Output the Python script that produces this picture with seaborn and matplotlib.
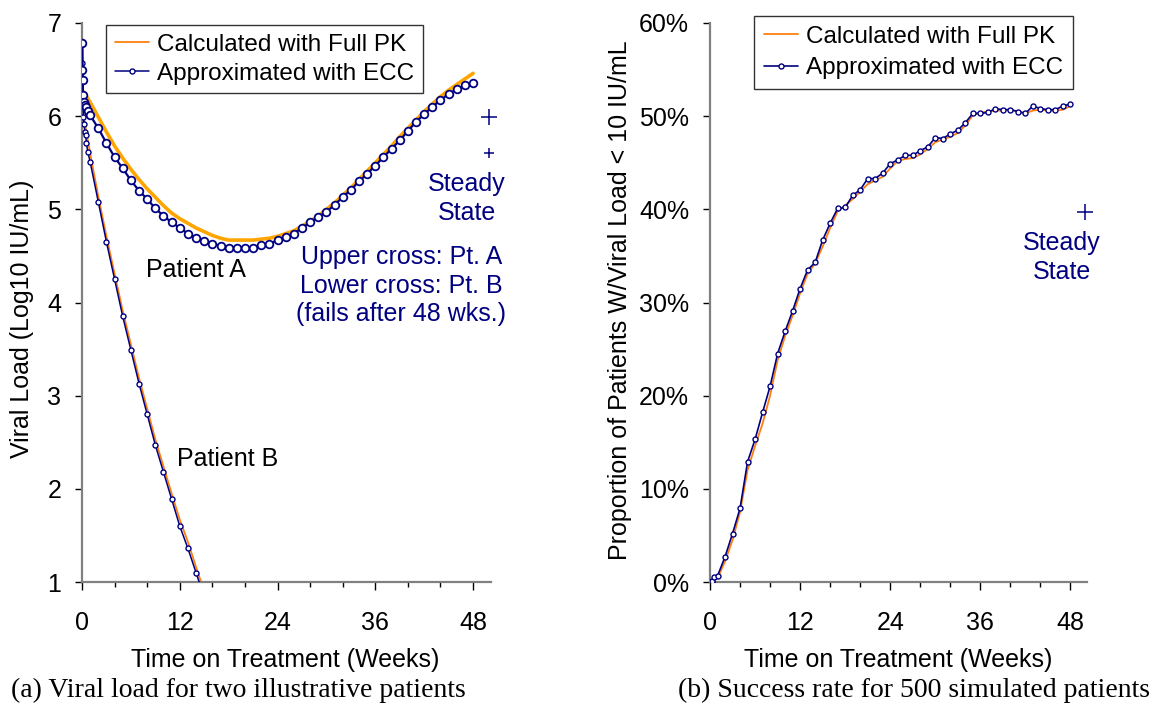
import numpy as np
import pandas as pd
import matplotlib
matplotlib.use("Agg")
import matplotlib.pyplot as plt
import seaborn as sns
from matplotlib.ticker import MultipleLocator, PercentFormatter

# ---------------- data ----------------
weeks_2_48 = list(range(2, 49))

# Patient A, approximated with ECC
a_ecc_t = [0, 0.02, 0.05, 0.08, 0.12, 0.2, 0.35, 0.5, 0.7, 1.0] + weeks_2_48
a_ecc_v = [6.22, 6.78, 6.50, 6.39, 6.23, 6.15, 6.12, 6.10, 6.06, 6.01,
           5.87, 5.71, 5.56, 5.44, 5.31, 5.20, 5.11, 5.01, 4.93, 4.86,
           4.80, 4.74, 4.69, 4.66, 4.63, 4.61, 4.59, 4.59, 4.59, 4.59,
           4.62, 4.63, 4.67, 4.70, 4.74, 4.80, 4.86, 4.92, 4.97, 5.05,
           5.13, 5.21, 5.30, 5.38, 5.47, 5.56, 5.65, 5.74, 5.84, 5.94,
           6.02, 6.10, 6.17, 6.24, 6.29, 6.33, 6.36]

# Patient A, calculated with full PK
a_pk_t = [0, 0.5, 1.0] + weeks_2_48
a_pk_v = [6.28, 6.22, 6.15,
          5.99, 5.83, 5.68, 5.55, 5.43, 5.32, 5.22, 5.13, 5.04, 4.96,
          4.90, 4.85, 4.80, 4.76, 4.72, 4.69, 4.67, 4.67, 4.67, 4.67,
          4.68, 4.69, 4.71, 4.74, 4.77, 4.82, 4.87, 4.93, 5.00, 5.07,
          5.15, 5.23, 5.32, 5.41, 5.50, 5.59, 5.68, 5.78, 5.87, 5.96,
          6.05, 6.13, 6.21, 6.28, 6.34, 6.40, 6.46]

# Patient B, approximated with ECC
b_ecc_t = [0, 0.02, 0.05, 0.08, 0.12, 0.17, 0.25, 0.35, 0.45, 0.55, 0.7, 1.0,
           2, 3, 4, 5, 6, 7, 8, 9, 10, 11, 12, 13, 14, 15]
b_ecc_v = [6.22, 6.79, 6.57, 6.39, 6.23, 5.99, 5.92, 5.83, 5.80, 5.71, 5.62, 5.51,
           5.08, 4.65, 4.25, 3.85, 3.49, 3.13, 2.80, 2.47, 2.18, 1.89, 1.60,
           1.36, 1.10, 0.84]

# Patient B, calculated with full PK
b_pk_t = [0, 0.1, 0.5, 1, 2, 3, 4, 5, 6, 7, 8, 9, 10, 11, 12, 13, 14, 15]
b_pk_v = [6.28, 6.06, 5.85, 5.60, 5.14, 4.71, 4.31, 3.91, 3.55, 3.19, 2.86,
          2.53, 2.24, 1.95, 1.67, 1.43, 1.16, 0.90]

# Steady state (left): upper cross Pt. A, lower cross Pt. B
ss_left_t = [50, 50]
ss_left_v = [5.99, 5.60]

# Success rate, approximated with ECC (%)
s_ecc_t = [0, 0.1, 0.2, 0.3, 0.5] + list(range(1, 49))
s_ecc_v = [0.0, 0.0, 0.05, 0.1, 0.5,
           0.65, 2.7, 5.2, 7.9, 12.9, 15.3, 18.2, 21.0, 24.5, 26.9,
           29.1, 31.5, 33.5, 34.3, 36.7, 38.5, 40.1, 40.2, 41.5, 42.1,
           43.3, 43.3, 43.9, 44.9, 45.3, 45.8, 45.8, 46.3, 46.7, 47.7,
           47.6, 48.1, 48.5, 49.3, 50.3, 50.3, 50.4, 50.8, 50.7, 50.7,
           50.5, 50.3, 51.1, 50.8, 50.7, 50.7, 51.1, 51.3]

# Success rate, calculated with full PK (%)
s_pk_t = list(range(0, 49))
s_pk_v = [0.0, 0.4, 2.2, 4.5, 7.5, 12.0, 14.6, 17.0, 20.0, 23.8, 26.4,
          28.6, 31.0, 33.1, 34.2, 36.0, 38.0, 39.8, 40.4, 41.1, 41.9,
          42.7, 43.1, 43.5, 44.4, 45.2, 45.4, 45.5, 45.9, 46.5, 47.2,
          47.5, 47.8, 48.2, 49.0, 50.1, 50.4, 50.5, 50.6, 50.6, 50.7,
          50.5, 50.3, 50.6, 50.7, 50.6, 50.6, 50.7, 51.1]

ss_right_t = [50]
ss_right_v = [39.7]

x_ticks = [0, 12, 24, 36, 48]
left_y_ticks = [1, 2, 3, 4, 5, 6, 7]
right_y_ticks = [0, 10, 20, 30, 40, 50, 60]

# ---------------- styling ----------------
sns.set_theme(style="ticks")
plt.rcParams["font.family"] = ["Liberation Sans", "DejaVu Sans"]
plt.rcParams["text.color"] = "black"
plt.rcParams["axes.labelcolor"] = "black"
plt.rcParams["xtick.color"] = "black"
plt.rcParams["ytick.color"] = "black"

ORANGE_A = "#FFA500"
ORANGE = "#FF7F0E"
NAVY = "#000080"
SPINE = "#808080"
FS = 18

fig = plt.figure(figsize=(11.52, 7.09), dpi=100)
axL = fig.add_axes([82 / 1152, 1 - 582 / 709, 409 / 1152, 559 / 709])
axR = fig.add_axes([710 / 1152, 1 - 582 / 709, 377 / 1152, 559 / 709])


def style_axis(ax):
    for s in ["top", "right"]:
        ax.spines[s].set_visible(False)
    for s in ["left", "bottom"]:
        ax.spines[s].set_color(SPINE)
        ax.spines[s].set_linewidth(1.6)
    ax.set_facecolor("white")
    ax.xaxis.set_major_locator(matplotlib.ticker.FixedLocator(x_ticks))
    ax.xaxis.set_minor_locator(MultipleLocator(4))
    ax.tick_params(axis="x", which="major", length=6, width=1.0, color="black",
                   labelcolor="black", labelsize=FS, pad=15)
    ax.tick_params(axis="x", which="minor", length=3.5, width=1.0, color="black")
    ax.tick_params(axis="y", which="major", length=5, width=1.0, color="black",
                   labelcolor="black", labelsize=FS, pad=10)
    ax.set_xlim(0, 50.2)


def line(ax, t, v, color, lw, label=None, marker=None, ms=0, mew=0, z=2):
    df = pd.DataFrame({"t": t, "v": v})
    kw = {}
    if marker:
        kw = dict(marker=marker, markersize=ms, markerfacecolor="white",
                  markeredgecolor=color, markeredgewidth=mew)
    sns.lineplot(data=df, x="t", y="v", ax=ax, color=color, linewidth=lw,
                 estimator=None, sort=False, label=label, zorder=z, **kw)


# ---------------- left panel ----------------
line(axL, b_pk_t, b_pk_v, ORANGE, 1.3, label="Calculated with Full PK", z=2)
line(axL, b_ecc_t, b_ecc_v, NAVY, 1.1, label="Approximated with ECC",
     marker="o", ms=3.6, mew=1.0, z=3)
line(axL, a_pk_t, a_pk_v, ORANGE_A, 2.6, z=2)
line(axL, a_ecc_t, a_ecc_v, NAVY, 1.6, marker="o", ms=5.5, mew=1.3, z=3)

axL.plot(ss_left_t[:1], ss_left_v[:1], marker="+", ms=11, mew=1.1, color=NAVY,
         ls="none", clip_on=False)
axL.plot(ss_left_t[1:], ss_left_v[1:], marker="+", ms=7, mew=1.1, color=NAVY,
         ls="none", clip_on=False)

axL.set_ylim(1, 7)
axL.set_yticks(left_y_ticks)
style_axis(axL)
axL.set_xlabel("Time on Treatment (Weeks)", fontsize=FS)
axL.set_ylabel("Viral Load (Log10 IU/mL)", fontsize=FS)
axL.xaxis.set_label_coords(0.496, -0.118)
axL.yaxis.set_label_coords(-0.117, 0.47)

axL.text(47.2, 5.12, "Steady\nState", color=NAVY, fontsize=FS, ha="center",
         va="center", linespacing=1.25)
axL.text(39.2, 4.18, "Upper cross: Pt. A\nLower cross: Pt. B\n(fails after 48 wks.)",
         color=NAVY, fontsize=FS, ha="center", va="center", linespacing=1.25)
axL.text(14.0, 4.35, "Patient A", color="black", fontsize=FS, ha="center", va="center")
axL.text(17.9, 2.32, "Patient B", color="black", fontsize=FS, ha="center", va="center")

legL = axL.legend(loc="upper left", bbox_to_anchor=(0.0587, 0.9964), borderaxespad=0,
                  fontsize=17.5, frameon=True, fancybox=False, edgecolor="black",
                  handlelength=1.4, handletextpad=0.35, labelspacing=0.3,
                  borderpad=0.35)
legL.get_frame().set_linewidth(1.0)
for t in legL.get_texts():
    t.set_color("black")

# ---------------- right panel ----------------
line(axR, s_pk_t, s_pk_v, ORANGE, 1.3, label="Calculated with Full PK", z=2)
line(axR, s_ecc_t, s_ecc_v, NAVY, 1.2, label="Approximated with ECC",
     marker="o", ms=3.6, mew=1.0, z=3)
axR.plot(ss_right_t, ss_right_v, marker="+", ms=11, mew=1.1, color=NAVY,
         ls="none", clip_on=False)

axR.set_ylim(0, 60)
axR.set_yticks(right_y_ticks)
axR.yaxis.set_major_formatter(PercentFormatter(decimals=0))
style_axis(axR)
axR.set_xlabel("Time on Treatment (Weeks)", fontsize=FS)
axR.set_ylabel("Proportion of Patients W/Viral Load < 10 IU/mL", fontsize=FS)
axR.xaxis.set_label_coords(0.499, -0.118)
axR.yaxis.set_label_coords(-0.207, 0.504)

axR.text(46.8, 34.8, "Steady\nState", color=NAVY, fontsize=FS, ha="center",
         va="center", linespacing=1.25)

legR = axR.legend(loc="upper left", bbox_to_anchor=(0.1167, 1.0125), borderaxespad=0,
                  fontsize=17.5, frameon=True, fancybox=False, edgecolor="black",
                  handlelength=1.4, handletextpad=0.35, labelspacing=0.4,
                  borderpad=0.4)
legR.get_frame().set_linewidth(1.0)
for t in legR.get_texts():
    t.set_color("black")

# ---------------- captions ----------------
fig.text(238 / 1152, 1 - 690 / 709, "(a) Viral load for two illustrative patients",
         family=["Liberation Serif", "DejaVu Serif"], fontsize=20, ha="center",
         va="center", color="black")
fig.text(914 / 1152, 1 - 690 / 709, "(b) Success rate for 500 simulated patients",
         family=["Liberation Serif", "DejaVu Serif"], fontsize=20, ha="center",
         va="center", color="black")

fig.savefig("out.png", dpi=100, facecolor="white")
